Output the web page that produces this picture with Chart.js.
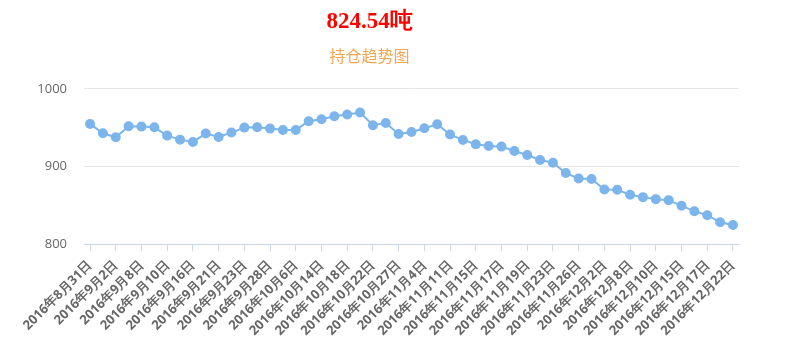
<!DOCTYPE html>
<html>
<head>
<meta charset="utf-8">
<script src="https://cdn.jsdelivr.net/npm/chart.js@4.4.0/dist/chart.umd.min.js"></script>
<style>
  html, body { margin: 0; padding: 0; background: #fff; }
  #wrap { width: 799px; height: 341px; }
</style>
</head>
<body>
<div id="wrap"><canvas id="holdChart"></canvas></div>
<script>
// 持仓日期 (每隔一个显示)
const dates = [
    '2016年8月31日', '2016年9月1日', '2016年9月2日', '2016年9月7日', '2016年9月8日',
    '2016年9月9日', '2016年9月10日', '2016年9月14日', '2016年9月16日', '2016年9月20日',
    '2016年9月21日', '2016年9月22日', '2016年9月23日', '2016年9月27日', '2016年9月28日',
    '2016年9月30日', '2016年10月6日', '2016年10月13日', '2016年10月14日', '2016年10月15日',
    '2016年10月18日', '2016年10月20日', '2016年10月22日', '2016年10月26日', '2016年10月27日',
    '2016年11月2日', '2016年11月4日', '2016年11月10日', '2016年11月11日', '2016年11月14日',
    '2016年11月15日', '2016年11月16日', '2016年11月17日', '2016年11月18日', '2016年11月19日',
    '2016年11月22日', '2016年11月23日', '2016年11月25日', '2016年11月26日', '2016年12月1日',
    '2016年12月2日', '2016年12月7日', '2016年12月8日', '2016年12月9日', '2016年12月10日',
    '2016年12月14日', '2016年12月15日', '2016年12月16日', '2016年12月17日', '2016年12月21日',
    '2016年12月22日'
];
// 持仓量 (吨)
const holdings = [
    954.8, 942.7, 937.5, 951.7, 951.3, 950.4, 939.7, 934.5, 931.5, 942.3,
    938.0, 943.6, 950.0, 950.4, 948.7, 947.0, 947.0, 958.2, 960.8, 964.7,
    966.8, 969.4, 953.0, 956.0, 941.8, 944.4, 949.2, 954.3, 941.0, 934.1,
    928.5, 926.3, 925.5, 919.9, 914.7, 908.2, 904.8, 891.4, 884.5, 883.7,
    870.3, 869.9, 863.4, 860.4, 857.8, 856.5, 849.2, 842.3, 837.1, 828.1,
    824.54
];
const yTicks = [800, 900, 1000];
const titleText = '824.54吨';
const subtitleText = '持仓趋势图';

const ctx = document.getElementById('holdChart').getContext('2d');
new Chart(ctx, {
    type: 'line',
    data: {
        datasets: [{
            label: '持仓',
            data: holdings.map((v, i) => ({ x: i, y: v })),
            borderColor: '#7cb5ec',
            backgroundColor: '#7cb5ec',
            pointBackgroundColor: '#7cb5ec',
            pointBorderColor: '#7cb5ec',
            pointRadius: 4,
            borderWidth: 2,
            tension: 0,
            fill: false
        }]
    },
    options: {
        responsive: true,
        maintainAspectRatio: false,
        animation: false,
        layout: { padding: { left: 0, right: 60, top: 0, bottom: 0 } },
        plugins: {
            legend: { display: false },
            tooltip: { enabled: false },
            title: {
                display: true,
                text: titleText,
                color: '#ff0000',
                font: { family: 'Liberation Serif', size: 23, weight: 'bold' },
                padding: { top: 8, bottom: 11 }
            },
            subtitle: {
                display: true,
                text: subtitleText,
                color: '#f5a54f',
                font: { family: 'Noto Sans CJK SC', size: 16 },
                padding: { bottom: 23 }
            }
        },
        scales: {
            x: {
                type: 'linear',
                min: -0.47,
                max: 50.47,
                afterBuildTicks: (scale) => {
                    scale.ticks = dates.map((d, i) => i).filter(i => i % 2 === 0).map(i => ({ value: i }));
                },
                afterFit: (scale) => { scale.height = 97; },
                ticks: {
                    autoSkip: false,
                    minRotation: 45,
                    maxRotation: 45,
                    padding: 7,
                    color: '#666',
                    font: { family: 'Open Sans', size: 13, weight: 'bold' },
                    callback: (value) => dates[value]
                },
                grid: {
                    drawOnChartArea: false,
                    drawTicks: true,
                    tickLength: 7,
                    color: '#ccd6eb'
                },
                border: { display: true, color: '#ccd6eb' }
            },
            y: {
                min: 800,
                max: 1000,
                afterBuildTicks: (scale) => {
                    scale.ticks = yTicks.map(v => ({ value: v }));
                },
                afterFit: (scale) => { scale.width = 84; },
                ticks: {
                    padding: 17,
                    color: '#666',
                    font: { family: 'Open Sans', size: 13 },
                    callback: (value) => String(value)
                },
                grid: {
                    color: '#e6e6e6',
                    drawTicks: false
                },
                border: { display: false }
            }
        }
    }
});
</script>
</body>
</html>
